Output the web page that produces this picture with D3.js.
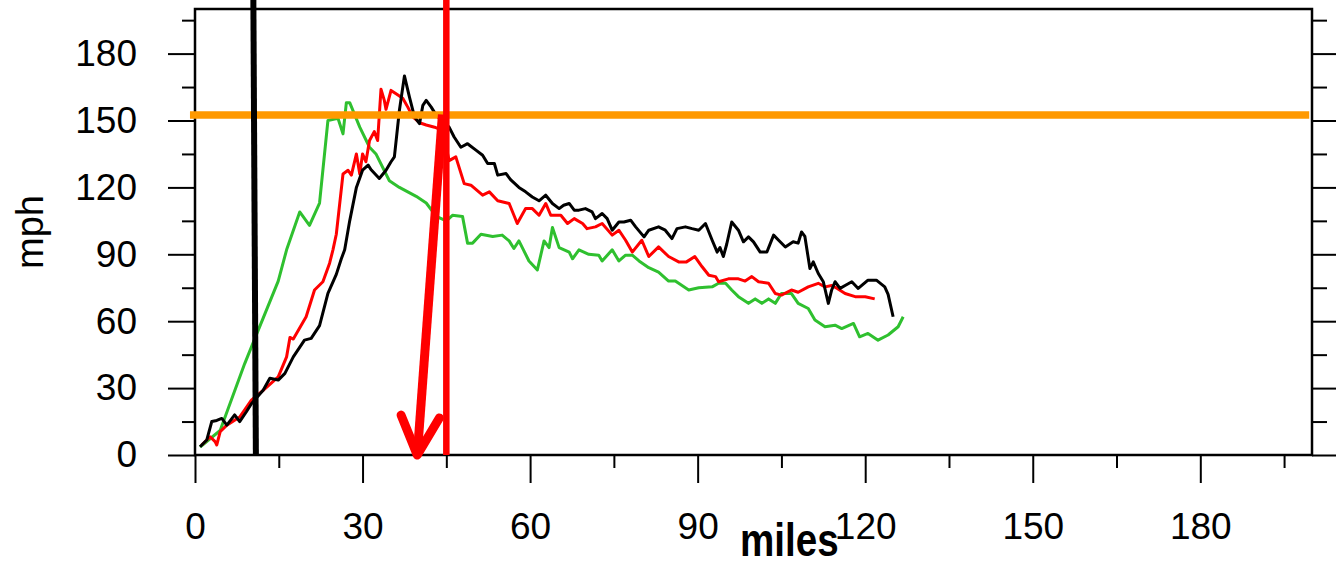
<!DOCTYPE html>
<html>
<head>
<meta charset="utf-8">
<script src="https://cdn.jsdelivr.net/npm/d3@7"></script>
<style>
  html, body { margin: 0; padding: 0; background: #fff; }
  svg { display: block; }
  .tick text { font-family: "Liberation Sans", Arial, Helvetica, sans-serif; }
</style>
</head>
<body>
<div id="chart"></div>
<script>
// ticks
const tickValues = [0, 30, 60, 90, 120, 150, 180];
const minorValues = [15, 45, 75, 105, 135, 165, 195];

// black run
const blackMiles = [0.9, 2.1, 3, 3.9, 4.8, 5.7, 7.1, 8, 9.2, 10.1, 12.2, 13.4, 14.9, 16.1, 17.6, 19.6, 20.8, 22.3, 23.8, 25.3,
  26.2, 26.8, 27.7, 28.9, 30, 31, 31.5, 33, 34.2, 35.1, 35.7, 36.6, 37.5, 38.4, 39.3, 40.2, 40.8, 41.4, 42.3, 43.2,
  45.5, 46.4, 47.6, 48.8, 50.3, 51.5, 52.4, 53.6, 54.2, 55.7, 56.5, 58, 59.2, 60.4, 61.6, 62.8, 64, 65.2, 66, 67,
  67.9, 68.75, 69.9, 71.1, 71.7, 72.9, 73.8, 74.7, 75.9, 76.8, 78, 78.9, 80.4, 81.25, 83, 84.2, 85.4, 86.3, 87.8, 89,
  90.2, 91.4, 92.6, 93.5, 94, 94.6, 95.2, 96.1, 97.3, 98.2, 99.1, 100, 101.2, 102.4, 103.6, 104.5, 105.7, 107.1, 108, 108.6,
  109.2, 110.1, 110.7, 111.6, 112.5, 113.4, 114, 114.6, 115.5, 116.4, 117.6, 118.75, 120.5, 122, 123.5, 124.1, 125];
const blackMph = [3.7, 6.7, 15, 15.5, 16.4, 13.4, 18, 15, 19.4, 23, 29, 34.4, 33.6, 36.6, 44, 51.5, 52.3, 58, 72.5, 81,
  88, 92, 105, 120, 127.7, 130, 128, 124, 127.7, 131.5, 133.7, 154.6, 170, 160.5, 151.6, 148.6, 156.8, 159, 156, 152.3,
  147, 142.6, 138, 139.6, 136.7, 134.4, 130.7, 130.7, 125.5, 126.2, 123.5, 120, 118, 115.7, 114, 116.5, 112.8, 110.5, 112, 112.8,
  109.8, 109.8, 110.5, 109, 106, 108.3, 106, 100.8, 104.5, 104.5, 105.3, 102.3, 97.8, 100.8, 102.3, 100.8, 97, 101.5, 102.3, 101.5,
  100.8, 103.8, 96.3, 91, 93, 89, 94.5, 104.5, 100.8, 95.6, 97.8, 95.6, 91, 91, 98.6, 96.3, 93.3, 95.6, 95, 100,
  98, 83.6, 86.6, 81.4, 77.7, 68, 74, 77.7, 74.7, 76, 77.7, 74.7, 78.4, 78.4, 75.4, 72, 62];

// red run
const redMiles = [1.2, 2.7, 3.6, 3.9, 4.5, 5.7, 8, 10.1, 12.2, 14.9, 16.4, 17, 17.6, 19.9, 21.4, 22.9, 24.1, 24.7, 25.3, 26.5,
  27.4, 28, 28.9, 29.5, 30, 30.6, 31.25, 32.1, 32.7, 33.3, 33.9, 34.2, 35.1, 36, 37.2, 38.1, 39, 40.2, 41.4, 42.9,
  44.3, 45.5, 46.7, 48.2, 49.4, 51.5, 52.7, 54.2, 56.25, 57.7, 59.2, 60.4, 61.6, 62.8, 63.7, 65.5, 66.7, 67.9, 69.4, 70.2,
  71.7, 72.9, 74.7, 75.9, 77.1, 78.3, 80, 81.25, 83, 84.8, 86.6, 88, 89.5, 90.8, 92, 93.2, 93.75, 95.5, 97.3, 98.5,
  99.7, 100.9, 102.7, 103.9, 105, 106.8, 108, 109.8, 111.6, 112.8, 114, 115, 116.4, 118.2, 120, 121.7];
const redMph = [4.5, 8.2, 6, 4.5, 10.4, 13.4, 17, 24.6, 29, 35, 44, 52.7, 52, 62, 74, 77.7, 86, 92, 99, 126,
  127.7, 125.5, 135, 126, 135, 131.5, 141, 145, 141, 164, 159, 155, 163.5, 162, 160, 156, 151.6, 149, 148, 147,
  145.6, 132, 133.7, 121.7, 121, 116.5, 118, 114, 112.8, 103.8, 110.5, 110.5, 107.5, 112.8, 107.5, 107.5, 103.8, 106, 103.8, 101.5,
  102.3, 103.8, 98.6, 100.8, 96.3, 91, 96.3, 89, 93.3, 89, 86.6, 86.6, 89, 84.4, 80.6, 80, 77.7, 79, 79, 78,
  80, 77.7, 77, 72.4, 71.7, 74, 73, 75.4, 77, 75.4, 76, 74.7, 72.4, 71, 71, 70];

// green run
const greenMiles = [0.9, 4.5, 8.9, 11, 14.9, 16.4, 18.75, 20.5, 22.3, 23.8, 25.6, 26.5, 27.1, 27.7, 29.5, 31.25, 32.4, 34.8, 36.6, 39.6,
  41.4, 43.2, 45, 46.1, 47.9, 48.8, 49.7, 51.2, 53.3, 55, 56.25, 57.1, 58, 59.8, 61.3, 62.5, 63.4, 64, 65.2, 67,
  67.6, 68.75, 70.5, 72.3, 72.9, 74.7, 75.9, 77.1, 78.3, 79.5, 81.25, 83, 84.8, 86, 88.4, 90.2, 92.6, 93.75, 95, 96.1,
  97.3, 99.1, 100.3, 101.5, 102.7, 103.9, 105, 106.8, 108, 109.8, 111, 112.8, 114.6, 115.8, 117.9, 119, 120.5, 122.3, 124.1, 125.9,
  126.8];
const greenMph = [3.6, 11, 41, 54, 78, 92, 109, 103, 113, 150, 151, 144, 158, 158, 147, 138, 135, 123, 120, 116,
  113, 107, 105, 107.5, 107, 95, 95, 99, 98, 98.6, 96, 92.6, 96, 87, 83, 96, 93, 102, 93, 91,
  88, 92, 90, 89.6, 87, 92, 87, 89.6, 89.6, 87, 84, 82, 78, 78, 74, 75, 75.4, 77, 77, 74,
  71, 68, 70, 68, 70, 68, 72.4, 72.4, 68, 65.7, 60.5, 57.5, 58.2, 56.7, 59, 53, 54.5, 51.5, 53.8, 57.5,
  62];

// annotation marks (data units)
const thresholdMph = 152.5;
const blackMarkMiles = [10.45, 10.9];
const redMarkMiles = 45;
const arrowMiles = [44.3, 39.8];
const arrowMph = [152.7, 0];
const arrowHeadMiles = [36.9, 39.8, 43.75];
const arrowHeadMph = [17.9, 0, 16.6];

const width = 1336;
const height = 562;
const x = d3.scaleLinear().domain([0, 200]).range([195, 1312]);
const y = d3.scaleLinear().domain([0, 200]).range([455, 9]);

const svg = d3.select("#chart").append("svg")
  .attr("width", width)
  .attr("height", height)
  .style("background", "#fff");

// axes
const styleAxis = (g) => {
  g.select(".domain").remove();
  g.selectAll(".tick line").attr("stroke", "#000").attr("stroke-width", 2);
  g.selectAll(".tick text").attr("fill", "#000").style("font-size", "37px");
};

svg.append("g")
  .attr("transform", `translate(${x(0)},0)`)
  .call(d3.axisLeft(y).tickValues(tickValues).tickSize(27).tickPadding(31).tickFormat(d3.format("d")))
  .call(styleAxis);
svg.append("g")
  .attr("transform", `translate(${x(0)},0)`)
  .call(d3.axisLeft(y).tickValues(minorValues).tickSize(13).tickFormat(""))
  .call(styleAxis);

svg.append("g")
  .attr("transform", `translate(0,${y(0)})`)
  .call(d3.axisBottom(x).tickValues(tickValues).tickSize(28).tickPadding(30).tickFormat(d3.format("d")))
  .call(styleAxis);
svg.append("g")
  .attr("transform", `translate(0,${y(0)})`)
  .call(d3.axisBottom(x).tickValues(minorValues).tickSize(13).tickFormat(""))
  .call(styleAxis);

svg.append("g")
  .attr("transform", `translate(${x(200)},0)`)
  .call(d3.axisRight(y).tickValues(tickValues).tickSize(27).tickFormat(""))
  .call(styleAxis);
svg.append("g")
  .attr("transform", `translate(${x(200)},0)`)
  .call(d3.axisRight(y).tickValues(minorValues).tickSize(15).tickFormat(""))
  .call(styleAxis);

// frame
svg.append("rect")
  .attr("x", x(0))
  .attr("y", y(200))
  .attr("width", x(200) - x(0))
  .attr("height", y(0) - y(200))
  .attr("fill", "none")
  .attr("stroke", "#000")
  .attr("stroke-width", 2.5);

// series
const line = d3.line().x((d) => x(d[0])).y((d) => y(d[1]));
const series = [
  { xs: greenMiles, ys: greenMph, color: "#2fc02f" },
  { xs: redMiles, ys: redMph, color: "#ff0000" },
  { xs: blackMiles, ys: blackMph, color: "#000000" },
];
series.forEach((s) => {
  svg.append("path")
    .datum(d3.zip(s.xs, s.ys))
    .attr("fill", "none")
    .attr("stroke", s.color)
    .attr("stroke-width", 3)
    .attr("stroke-linejoin", "round")
    .attr("d", line);
});

// threshold line
svg.append("line")
  .attr("x1", x(-0.9))
  .attr("x2", x(199.5))
  .attr("y1", y(thresholdMph))
  .attr("y2", y(thresholdMph))
  .attr("stroke", "#ff9900")
  .attr("stroke-width", 7.5);

// vertical marks
svg.append("line")
  .attr("x1", x(blackMarkMiles[0]))
  .attr("x2", x(blackMarkMiles[1]))
  .attr("y1", 0)
  .attr("y2", y(0))
  .attr("stroke", "#000")
  .attr("stroke-width", 6);

svg.append("line")
  .attr("x1", x(redMarkMiles))
  .attr("x2", x(redMarkMiles))
  .attr("y1", 0)
  .attr("y2", y(0))
  .attr("stroke", "#ff0000")
  .attr("stroke-width", 6.5);

// arrow
svg.append("path")
  .datum(d3.zip(arrowMiles, arrowMph))
  .attr("fill", "none")
  .attr("stroke", "#ff0000")
  .attr("stroke-width", 9)
  .attr("d", line);
svg.append("path")
  .datum(d3.zip(arrowHeadMiles, arrowHeadMph))
  .attr("fill", "none")
  .attr("stroke", "#ff0000")
  .attr("stroke-width", 9)
  .attr("stroke-linecap", "round")
  .attr("stroke-linejoin", "round")
  .attr("d", line);

// labels
svg.append("text")
  .attr("transform", "translate(43,232) rotate(-90)")
  .attr("text-anchor", "middle")
  .style("font-family", "'Liberation Sans', Arial, sans-serif")
  .style("font-size", "38px")
  .text("mph");

svg.append("text")
  .attr("transform", "translate(740,556) scale(0.84,1)")
  .style("font-family", "'Liberation Sans', Arial, sans-serif")
  .style("font-weight", "bold")
  .style("font-size", "46px")
  .text("miles");
</script>
</body>
</html>
